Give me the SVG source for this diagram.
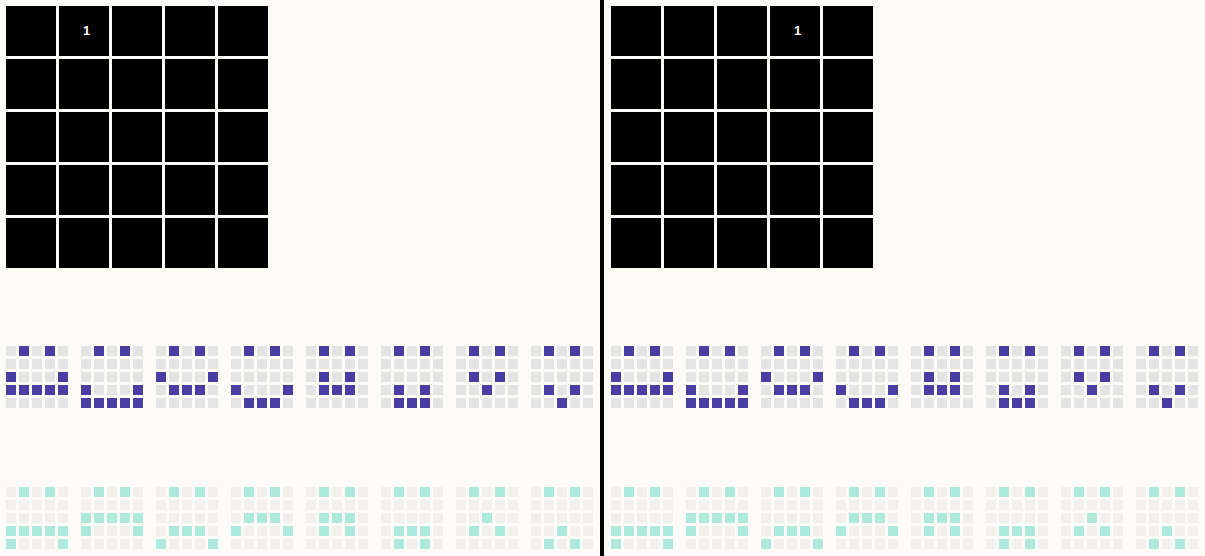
<svg xmlns="http://www.w3.org/2000/svg" width="1205" height="556" viewBox="0 0 1205 556">
<style>
.bg{fill:#fcfbf7}
.big{fill:#000000}
.pg{fill:#e4e4e4}
.gg{fill:#f1f0ee}
.pc{fill:#4a3ea5}
.gc{fill:#aeeadb}
.num{fill:#ffffff;font-family:"Liberation Sans",Arial,sans-serif;font-size:13px;font-weight:bold;text-anchor:middle}
.div{fill:#000000}
</style>
<defs>
<g id="bigGrid">
<rect class="big" x="0" y="0" width="50" height="50"/><rect class="big" x="53" y="0" width="50" height="50"/><rect class="big" x="106" y="0" width="50" height="50"/><rect class="big" x="159" y="0" width="50" height="50"/><rect class="big" x="212" y="0" width="50" height="50"/>
<rect class="big" x="0" y="53" width="50" height="50"/><rect class="big" x="53" y="53" width="50" height="50"/><rect class="big" x="106" y="53" width="50" height="50"/><rect class="big" x="159" y="53" width="50" height="50"/><rect class="big" x="212" y="53" width="50" height="50"/>
<rect class="big" x="0" y="106" width="50" height="50"/><rect class="big" x="53" y="106" width="50" height="50"/><rect class="big" x="106" y="106" width="50" height="50"/><rect class="big" x="159" y="106" width="50" height="50"/><rect class="big" x="212" y="106" width="50" height="50"/>
<rect class="big" x="0" y="159" width="50" height="50"/><rect class="big" x="53" y="159" width="50" height="50"/><rect class="big" x="106" y="159" width="50" height="50"/><rect class="big" x="159" y="159" width="50" height="50"/><rect class="big" x="212" y="159" width="50" height="50"/>
<rect class="big" x="0" y="212" width="50" height="50"/><rect class="big" x="53" y="212" width="50" height="50"/><rect class="big" x="106" y="212" width="50" height="50"/><rect class="big" x="159" y="212" width="50" height="50"/><rect class="big" x="212" y="212" width="50" height="50"/>
</g>
<rect id="c" width="10" height="10"/>
<g id="bgP" class="pg">
<use href="#c" x="0" y="0"/><use href="#c" x="13" y="0"/><use href="#c" x="26" y="0"/><use href="#c" x="39" y="0"/><use href="#c" x="52" y="0"/>
<use href="#c" x="0" y="13"/><use href="#c" x="13" y="13"/><use href="#c" x="26" y="13"/><use href="#c" x="39" y="13"/><use href="#c" x="52" y="13"/>
<use href="#c" x="0" y="26"/><use href="#c" x="13" y="26"/><use href="#c" x="26" y="26"/><use href="#c" x="39" y="26"/><use href="#c" x="52" y="26"/>
<use href="#c" x="0" y="39"/><use href="#c" x="13" y="39"/><use href="#c" x="26" y="39"/><use href="#c" x="39" y="39"/><use href="#c" x="52" y="39"/>
<use href="#c" x="0" y="52"/><use href="#c" x="13" y="52"/><use href="#c" x="26" y="52"/><use href="#c" x="39" y="52"/><use href="#c" x="52" y="52"/>
</g>
<g id="bgG" class="gg">
<use href="#c" x="0" y="0"/><use href="#c" x="13" y="0"/><use href="#c" x="26" y="0"/><use href="#c" x="39" y="0"/><use href="#c" x="52" y="0"/>
<use href="#c" x="0" y="13"/><use href="#c" x="13" y="13"/><use href="#c" x="26" y="13"/><use href="#c" x="39" y="13"/><use href="#c" x="52" y="13"/>
<use href="#c" x="0" y="26"/><use href="#c" x="13" y="26"/><use href="#c" x="26" y="26"/><use href="#c" x="39" y="26"/><use href="#c" x="52" y="26"/>
<use href="#c" x="0" y="39"/><use href="#c" x="13" y="39"/><use href="#c" x="26" y="39"/><use href="#c" x="39" y="39"/><use href="#c" x="52" y="39"/>
<use href="#c" x="0" y="52"/><use href="#c" x="13" y="52"/><use href="#c" x="26" y="52"/><use href="#c" x="39" y="52"/><use href="#c" x="52" y="52"/>
</g>
<g id="P1"><use href="#bgP"/><g class="pc"><use href="#c" x="13" y="0"/><use href="#c" x="39" y="0"/><use href="#c" x="0" y="26"/><use href="#c" x="52" y="26"/><use href="#c" x="0" y="39"/><use href="#c" x="13" y="39"/><use href="#c" x="26" y="39"/><use href="#c" x="39" y="39"/><use href="#c" x="52" y="39"/></g></g>
<g id="P2"><use href="#bgP"/><g class="pc"><use href="#c" x="13" y="0"/><use href="#c" x="39" y="0"/><use href="#c" x="0" y="39"/><use href="#c" x="52" y="39"/><use href="#c" x="0" y="52"/><use href="#c" x="13" y="52"/><use href="#c" x="26" y="52"/><use href="#c" x="39" y="52"/><use href="#c" x="52" y="52"/></g></g>
<g id="P3"><use href="#bgP"/><g class="pc"><use href="#c" x="13" y="0"/><use href="#c" x="39" y="0"/><use href="#c" x="0" y="26"/><use href="#c" x="52" y="26"/><use href="#c" x="13" y="39"/><use href="#c" x="26" y="39"/><use href="#c" x="39" y="39"/></g></g>
<g id="P4"><use href="#bgP"/><g class="pc"><use href="#c" x="13" y="0"/><use href="#c" x="39" y="0"/><use href="#c" x="0" y="39"/><use href="#c" x="52" y="39"/><use href="#c" x="13" y="52"/><use href="#c" x="26" y="52"/><use href="#c" x="39" y="52"/></g></g>
<g id="P5"><use href="#bgP"/><g class="pc"><use href="#c" x="13" y="0"/><use href="#c" x="39" y="0"/><use href="#c" x="13" y="26"/><use href="#c" x="39" y="26"/><use href="#c" x="13" y="39"/><use href="#c" x="26" y="39"/><use href="#c" x="39" y="39"/></g></g>
<g id="P6"><use href="#bgP"/><g class="pc"><use href="#c" x="13" y="0"/><use href="#c" x="39" y="0"/><use href="#c" x="13" y="39"/><use href="#c" x="39" y="39"/><use href="#c" x="13" y="52"/><use href="#c" x="26" y="52"/><use href="#c" x="39" y="52"/></g></g>
<g id="P7"><use href="#bgP"/><g class="pc"><use href="#c" x="13" y="0"/><use href="#c" x="39" y="0"/><use href="#c" x="13" y="26"/><use href="#c" x="39" y="26"/><use href="#c" x="26" y="39"/></g></g>
<g id="P8"><use href="#bgP"/><g class="pc"><use href="#c" x="13" y="0"/><use href="#c" x="39" y="0"/><use href="#c" x="13" y="39"/><use href="#c" x="39" y="39"/><use href="#c" x="26" y="52"/></g></g>
<g id="G1"><use href="#bgG"/><g class="gc"><use href="#c" x="13" y="0"/><use href="#c" x="39" y="0"/><use href="#c" x="0" y="39"/><use href="#c" x="13" y="39"/><use href="#c" x="26" y="39"/><use href="#c" x="39" y="39"/><use href="#c" x="52" y="39"/><use href="#c" x="0" y="52"/><use href="#c" x="52" y="52"/></g></g>
<g id="G2"><use href="#bgG"/><g class="gc"><use href="#c" x="13" y="0"/><use href="#c" x="39" y="0"/><use href="#c" x="0" y="26"/><use href="#c" x="13" y="26"/><use href="#c" x="26" y="26"/><use href="#c" x="39" y="26"/><use href="#c" x="52" y="26"/><use href="#c" x="0" y="39"/><use href="#c" x="52" y="39"/></g></g>
<g id="G3"><use href="#bgG"/><g class="gc"><use href="#c" x="13" y="0"/><use href="#c" x="39" y="0"/><use href="#c" x="13" y="39"/><use href="#c" x="26" y="39"/><use href="#c" x="39" y="39"/><use href="#c" x="0" y="52"/><use href="#c" x="52" y="52"/></g></g>
<g id="G4"><use href="#bgG"/><g class="gc"><use href="#c" x="13" y="0"/><use href="#c" x="39" y="0"/><use href="#c" x="13" y="26"/><use href="#c" x="26" y="26"/><use href="#c" x="39" y="26"/><use href="#c" x="0" y="39"/><use href="#c" x="52" y="39"/></g></g>
<g id="G5"><use href="#bgG"/><g class="gc"><use href="#c" x="13" y="0"/><use href="#c" x="39" y="0"/><use href="#c" x="13" y="26"/><use href="#c" x="26" y="26"/><use href="#c" x="39" y="26"/><use href="#c" x="13" y="39"/><use href="#c" x="39" y="39"/></g></g>
<g id="G6"><use href="#bgG"/><g class="gc"><use href="#c" x="13" y="0"/><use href="#c" x="39" y="0"/><use href="#c" x="13" y="39"/><use href="#c" x="26" y="39"/><use href="#c" x="39" y="39"/><use href="#c" x="13" y="52"/><use href="#c" x="39" y="52"/></g></g>
<g id="G7"><use href="#bgG"/><g class="gc"><use href="#c" x="13" y="0"/><use href="#c" x="39" y="0"/><use href="#c" x="26" y="26"/><use href="#c" x="13" y="39"/><use href="#c" x="39" y="39"/></g></g>
<g id="G8"><use href="#bgG"/><g class="gc"><use href="#c" x="13" y="0"/><use href="#c" x="39" y="0"/><use href="#c" x="26" y="39"/><use href="#c" x="13" y="52"/><use href="#c" x="39" y="52"/></g></g>
<g id="rows">
<use href="#P1" x="6" y="346"/><use href="#P2" x="81" y="346"/><use href="#P3" x="156" y="346"/><use href="#P4" x="231" y="346"/><use href="#P5" x="306" y="346"/><use href="#P6" x="381" y="346"/><use href="#P7" x="456" y="346"/><use href="#P8" x="531" y="346"/>
<use href="#G1" x="6" y="487"/><use href="#G2" x="81" y="487"/><use href="#G3" x="156" y="487"/><use href="#G4" x="231" y="487"/><use href="#G5" x="306" y="487"/><use href="#G6" x="381" y="487"/><use href="#G7" x="456" y="487"/><use href="#G8" x="531" y="487"/>
</g>
</defs>
<rect class="bg" x="0" y="0" width="1205" height="556"/>
<g id="left-panel">
<use href="#bigGrid" x="6" y="6"/>
<text class="num" x="86.5" y="35">1</text>
<use href="#rows"/>
</g>
<g id="divider">
<rect class="div" x="600" y="0" width="4" height="556"/>
</g>
<g id="right-panel">
<use href="#bigGrid" x="611" y="6"/>
<text class="num" x="797.5" y="35">1</text>
<use href="#rows" x="605"/>
</g>
</svg>
